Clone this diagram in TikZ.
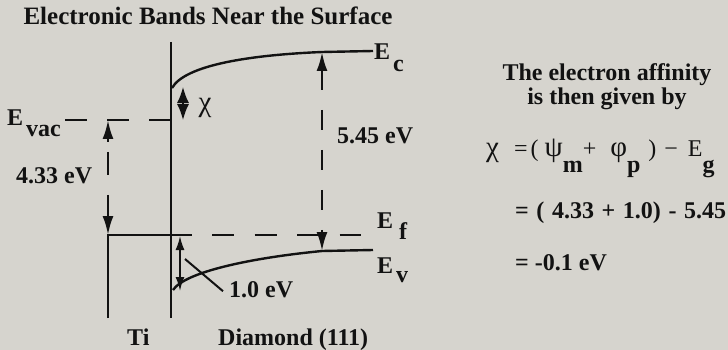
\documentclass[tikz,border=0pt]{standalone}
\usepackage{fontspec}
\setmainfont{Liberation Serif}
\usetikzlibrary{arrows.meta,calc}
\definecolor{BgClr}{RGB}{214,212,206}
\definecolor{InkClr}{RGB}{18,18,18}
\newcommand{\lowsub}[2][0.46em]{\raisebox{-#1}{#2}}
\newcommand{\grk}[1]{{\fontsize{29}{29}\selectfont #1}}

\begin{document}
\begin{tikzpicture}[x=1pt,y=-1pt,
  lbl/.style={font=\bfseries\fontsize{24}{24}\selectfont,inner sep=0pt,text=InkClr},
  band/.style={line width=2.4pt,draw=InkClr},
  dimline/.style={line width=2.4pt,draw=InkClr,dash pattern=on 20pt off 20pt,
    {Latex[length=19pt,width=11pt]}-{Latex[length=19pt,width=11pt]}},
  gaparr/.style={line width=1.8pt,draw=InkClr,
    {Latex[length=14pt,width=9pt]}-{Latex[length=14pt,width=9pt]}}]

\fill[BgClr] (0,0) rectangle (728,350);
\useasboundingbox (0,0) rectangle (728,350);

\coordinate (IfTop) at (171,42);  \coordinate (IfBot) at (171,318);
\coordinate (TiBot) at (108,318); \coordinate (TiF) at (108,235);
\coordinate (IfF) at (192,235);   \coordinate (DiaF) at (361,235);
\coordinate (VacA) at (65,120);   \coordinate (VacB) at (171,120);
\coordinate (EcA) at (172,88);    \coordinate (EcB) at (322,52);  \coordinate (EcC) at (373,51);
\coordinate (EvA) at (173,290);   \coordinate (EvB) at (322,251); \coordinate (EvC) at (373,250);
\coordinate (TiVac) at (108,120);
\coordinate (ChiA) at (183,87);   \coordinate (ChiB) at (183,120);
\coordinate (GapA) at (180,236);  \coordinate (GapB) at (180,291);
\coordinate (lead) at (185,259);

% band edges
\draw[band,line width=2.8pt] (IfTop) -- (IfBot);
\draw[band] (TiBot) -- (TiF) -- (IfF);
\draw[band,dash pattern=on 22pt off 20.5pt] ($(IfF)+(20,0)$) -- (DiaF);
\draw[band,dash pattern=on 22pt off 20pt] (VacA) -- (VacB);
\draw[band] (EcA) .. controls (185,65) and (250,55) .. (EcB) -- (EcC);
\draw[band] (EvA) .. controls (185,272) and (250,258) .. (EvB) -- (EvC);

% energies
\draw[dimline,dash pattern=on 4pt off 10pt on 23pt off 20pt on 40pt] (TiVac) -- (TiF);
\draw[dimline] (EcB) -- (EvB);
\draw[line width=1.6pt,draw=InkClr,{Latex[length=16pt,width=12pt]}-{Latex[length=16pt,width=12pt]}] (ChiA) -- (ChiB);
\draw[gaparr] (GapA) -- (GapB);

\node[lbl,font=\bfseries\fontsize{25}{25}\selectfont,anchor=base] (title) at (208,25) {Electronic Bands Near the Surface};
\node[lbl,anchor=base west] (evac) at (7,126) {E\hspace{3pt}\lowsub[11pt]{vac}};
\node[lbl,anchor=base west] (ec) at (374,60) {E\hspace{3pt}\lowsub[12pt]{c}};
\node[lbl,anchor=base west] (ef) at (377,228) {E\hspace{6pt}\lowsub[11pt]{f}};
\node[lbl,anchor=base west] (ev) at (377,273) {E\hspace{3pt}\lowsub[9pt]{v}};
\node[lbl,anchor=base west] (phim) at (16,183) {4.33 eV};
\node[lbl,anchor=base west] (egap) at (337,143) {5.45 eV};
\node[lbl,font=\mdseries] (chi) at (205,108) {\grk{χ}};
\node[lbl,anchor=base west] (phip) at (229,297) {1.0 eV};
\draw[line width=2pt,draw=InkClr] (lead) -- ([xshift=-6pt,yshift=-2pt]phip.west);
\node[lbl,anchor=base west] (ti) at (127,345) {Ti};
\node[lbl,anchor=base west] (dia) at (218,345) {Diamond (111)};

\node[lbl,anchor=base] (aff1) at (607,81) {The electron affinity};
\node[lbl,anchor=base] (aff2) at (607,105) {is then given by};
\node[lbl,font=\mdseries\fontsize{24}{24}\selectfont,anchor=base west] (eq1) at (486,157) {\grk{χ}\hspace{15pt}=\hspace{3pt}(\hspace{6pt}\grk{ψ}\lowsub[16pt]{\bfseries m}+\hspace{14pt}\grk{φ}\lowsub[16pt]{\bfseries p}\hspace{8pt})\hspace{8pt}−\hspace{10pt}E\lowsub[16pt]{\bfseries g}};
\node[lbl,anchor=base west] (eq2) at (515,218) {\spaceskip=7.6pt = ( 4.33 + 1.0) - 5.45};
\node[lbl,anchor=base west] (eq3) at (515,270) {= -0.1 eV};

\end{tikzpicture}
\end{document}
